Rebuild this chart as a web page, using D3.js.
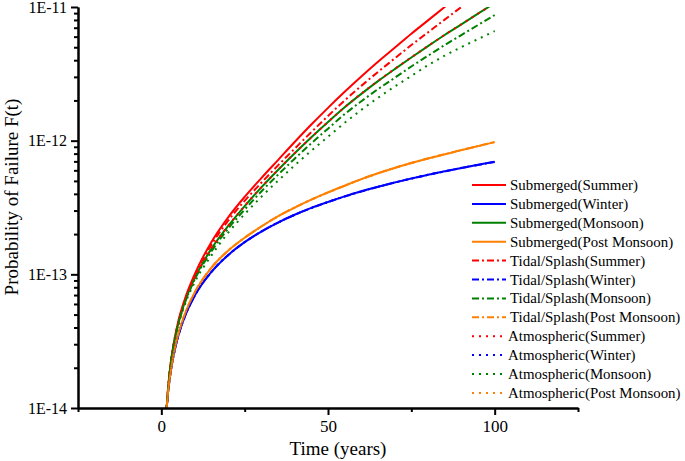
<!DOCTYPE html>
<head>
  <meta charset="utf-8" />
  <script src="https://d3js.org/d3.v7.min.js"></script>
  <style>
    body { margin: 0; background: #fff; }
    text { font-family: "Times New Roman", "Liberation Serif", serif; fill: #000; }
  </style>
</head>
<body>
  <div id="chart"></div>
  <script>
    // time axis (years)
    const years = [1.6, 2, 2.5, 3, 4, 5, 7, 10, 15, 20, 25, 30, 35, 40, 45, 50, 55, 60, 65, 70, 75, 80, 85, 90, 95, 100];

    // probability of failure F(t)
    const subSummer = [1.0e-14, 1.38e-14, 1.86e-14, 2.34e-14, 3.31e-14, 4.37e-14, 6.46e-14, 1.0e-13, 1.74e-13, 2.66e-13, 3.80e-13, 5.25e-13, 7.16e-13, 9.77e-13, 1.32e-12, 1.76e-12, 2.32e-12, 3.02e-12, 3.89e-12, 4.95e-12, 6.31e-12, 7.94e-12, 1.0e-11, 1.26e-11, 1.58e-11, 2.0e-11];
    const subWinter = [1.0e-14, 1.3e-14, 1.65e-14, 2.0e-14, 2.7e-14, 3.4e-14, 4.8e-14, 6.9e-14, 1.04e-13, 1.39e-13, 1.74e-13, 2.09e-13, 2.44e-13, 2.79e-13, 3.14e-13, 3.48e-13, 3.83e-13, 4.18e-13, 4.52e-13, 4.87e-13, 5.21e-13, 5.56e-13, 5.90e-13, 6.25e-13, 6.60e-13, 6.95e-13];
    const subMonsoon = [1.0e-14, 1.35e-14, 1.82e-14, 2.29e-14, 3.24e-14, 4.17e-14, 6.17e-14, 9.33e-14, 1.55e-13, 2.29e-13, 3.24e-13, 4.47e-13, 6.03e-13, 8.04e-13, 1.06e-12, 1.38e-12, 1.78e-12, 2.24e-12, 2.79e-12, 3.43e-12, 4.19e-12, 5.10e-12, 6.17e-12, 7.41e-12, 8.91e-12, 1.07e-11];
    const subPost = [1.0e-14, 1.3e-14, 1.65e-14, 2.0e-14, 2.75e-14, 3.5e-14, 5.0e-14, 7.3e-14, 1.12e-13, 1.50e-13, 1.88e-13, 2.28e-13, 2.72e-13, 3.16e-13, 3.62e-13, 4.10e-13, 4.60e-13, 5.15e-13, 5.70e-13, 6.25e-13, 6.80e-13, 7.35e-13, 7.90e-13, 8.50e-13, 9.10e-13, 9.75e-13];
    const tidSummer = [1.0e-14, 1.38e-14, 1.86e-14, 2.34e-14, 3.31e-14, 4.27e-14, 6.31e-14, 9.77e-14, 1.66e-13, 2.51e-13, 3.55e-13, 4.84e-13, 6.53e-13, 8.71e-13, 1.16e-12, 1.53e-12, 2.0e-12, 2.57e-12, 3.27e-12, 4.12e-12, 5.19e-12, 6.46e-12, 8.04e-12, 1.0e-11, 1.24e-11, 1.55e-11];
    const tidWinter = [1.0e-14, 1.3e-14, 1.65e-14, 2.0e-14, 2.7e-14, 3.4e-14, 4.8e-14, 6.9e-14, 1.04e-13, 1.39e-13, 1.74e-13, 2.09e-13, 2.44e-13, 2.79e-13, 3.13e-13, 3.47e-13, 3.82e-13, 4.17e-13, 4.51e-13, 4.86e-13, 5.20e-13, 5.55e-13, 5.89e-13, 6.24e-13, 6.58e-13, 6.93e-13];
    const tidMonsoon = [1.0e-14, 1.35e-14, 1.82e-14, 2.29e-14, 3.24e-14, 4.17e-14, 6.03e-14, 9.12e-14, 1.48e-13, 2.19e-13, 3.05e-13, 4.17e-13, 5.56e-13, 7.33e-13, 9.55e-13, 1.23e-12, 1.58e-12, 1.97e-12, 2.43e-12, 2.95e-12, 3.59e-12, 4.32e-12, 5.19e-12, 6.17e-12, 7.33e-12, 8.71e-12];
    const tidPost = [1.0e-14, 1.3e-14, 1.65e-14, 2.0e-14, 2.75e-14, 3.5e-14, 5.0e-14, 7.3e-14, 1.12e-13, 1.50e-13, 1.88e-13, 2.28e-13, 2.72e-13, 3.16e-13, 3.62e-13, 4.10e-13, 4.61e-13, 5.16e-13, 5.71e-13, 6.26e-13, 6.81e-13, 7.36e-13, 7.92e-13, 8.52e-13, 9.12e-13, 9.78e-13];
    const atmSummer = [1.0e-14, 1.35e-14, 1.82e-14, 2.29e-14, 3.24e-14, 4.17e-14, 6.17e-14, 9.38e-14, 1.56e-13, 2.30e-13, 3.25e-13, 4.48e-13, 6.05e-13, 8.06e-13, 1.06e-12, 1.38e-12, 1.78e-12, 2.25e-12, 2.80e-12, 3.44e-12, 4.20e-12, 5.11e-12, 6.18e-12, 7.43e-12, 8.93e-12, 1.07e-11];
    const atmWinter = [1.0e-14, 1.3e-14, 1.65e-14, 2.0e-14, 2.7e-14, 3.4e-14, 4.8e-14, 6.9e-14, 1.04e-13, 1.39e-13, 1.74e-13, 2.09e-13, 2.44e-13, 2.79e-13, 3.14e-13, 3.48e-13, 3.83e-13, 4.18e-13, 4.52e-13, 4.87e-13, 5.21e-13, 5.56e-13, 5.90e-13, 6.25e-13, 6.60e-13, 6.95e-13];
    const atmMonsoon = [1.0e-14, 1.32e-14, 1.78e-14, 2.24e-14, 3.16e-14, 4.07e-14, 5.89e-14, 8.71e-14, 1.38e-13, 2.04e-13, 2.82e-13, 3.80e-13, 5.01e-13, 6.53e-13, 8.41e-13, 1.07e-12, 1.36e-12, 1.70e-12, 2.09e-12, 2.54e-12, 3.05e-12, 3.67e-12, 4.32e-12, 5.01e-12, 5.75e-12, 6.61e-12];
    const atmPost = [1.0e-14, 1.3e-14, 1.65e-14, 2.0e-14, 2.75e-14, 3.5e-14, 5.0e-14, 7.3e-14, 1.12e-13, 1.50e-13, 1.88e-13, 2.28e-13, 2.72e-13, 3.16e-13, 3.62e-13, 4.10e-13, 4.60e-13, 5.15e-13, 5.70e-13, 6.25e-13, 6.80e-13, 7.35e-13, 7.90e-13, 8.50e-13, 9.10e-13, 9.75e-13];

    const seriesNames = ["Submerged(Summer)", "Submerged(Winter)", "Submerged(Monsoon)", "Submerged(Post Monsoon)",
      "Tidal/Splash(Summer)", "Tidal/Splash(Winter)", "Tidal/Splash(Monsoon)", "Tidal/Splash(Post Monsoon)",
      "Atmospheric(Summer)", "Atmospheric(Winter)", "Atmospheric(Monsoon)", "Atmospheric(Post Monsoon)"];
    const seriesValues = [subSummer, subWinter, subMonsoon, subPost, tidSummer, tidWinter, tidMonsoon, tidPost,
      atmSummer, atmWinter, atmMonsoon, atmPost];

    const yMajor = [1e-14, 1e-13, 1e-12, 1e-11];
    const yMajorLabels = ["1E-14", "1E-13", "1E-12", "1E-11"];
    const xMajor = [0, 50, 100];
    const xMinor = [-25, 25, 75, 125];

    const width = 685, height = 461;
    const margin = { top: 7, right: 107, bottom: 53, left: 78 };

    const colors = ["#ff0000", "#0000ff", "#008000", "#ff8000"];
    const dashes = [null, "7,3,2,3", "2,5"];

    const svg = d3.select("#chart").append("svg")
      .attr("width", width)
      .attr("height", height);

    const x = d3.scaleLinear().domain([-25, 125]).range([margin.left, width - margin.right]);
    const y = d3.scaleLog().domain([1e-14, 1e-11]).range([height - margin.bottom, margin.top]);

    svg.append("clipPath").attr("id", "clip")
      .append("rect")
      .attr("x", margin.left).attr("y", margin.top)
      .attr("width", x(125) - margin.left)
      .attr("height", y(1e-14) - margin.top);

    // courbes
    const line = d3.line()
      .x(function (d) { return x(d[0]); })
      .y(function (d) { return y(d[1]); })
      .curve(d3.curveMonotoneX);

    const plot = svg.append("g").attr("clip-path", "url(#clip)");
    seriesValues.forEach(function (vals, i) {
      plot.append("path")
        .datum(years.map(function (t, k) { return [t, vals[k]]; }))
        .attr("d", line)
        .attr("fill", "none")
        .attr("stroke", colors[i % 4])
        .attr("stroke-width", 2)
        .attr("stroke-dasharray", dashes[Math.floor(i / 4)]);
    });

    // axes
    const minorY = [];
    yMajor.slice(0, 3).forEach(function (p) {
      for (let m = 2; m <= 9; m++) minorY.push(p * m);
    });

    svg.append("g")
      .attr("transform", "translate(" + margin.left + ",0)")
      .call(d3.axisLeft(y).tickValues(minorY).tickSize(4).tickSizeOuter(0).tickFormat(""));

    const yAxis = svg.append("g")
      .attr("transform", "translate(" + margin.left + ",0)")
      .call(d3.axisLeft(y).tickValues(yMajor).tickSize(7).tickSizeOuter(0)
        .tickFormat(function (d, i) { return yMajorLabels[i]; }));
    yAxis.selectAll("text").attr("x", -11).style("font-size", "16px");

    const xBase = y(1e-14);
    svg.append("g")
      .attr("transform", "translate(0," + xBase + ")")
      .call(d3.axisBottom(x).tickValues(xMinor).tickSize(4).tickSizeOuter(0).tickFormat(""));

    const xAxis = svg.append("g")
      .attr("transform", "translate(0," + xBase + ")")
      .call(d3.axisBottom(x).tickValues(xMajor).tickSize(7).tickSizeOuter(0).tickFormat(d3.format("d")));
    xAxis.selectAll("text").attr("y", 12).style("font-size", "17px");

    svg.selectAll(".domain").attr("stroke-width", 2);
    svg.selectAll(".tick line").attr("stroke-width", 2);
    svg.selectAll("g").attr("font-family", null);

    // titres
    svg.append("text")
      .attr("x", (x(-25) + x(125)) / 2 + 10)
      .attr("y", 455)
      .attr("text-anchor", "middle")
      .style("font-size", "19px")
      .text("Time (years)");

    svg.append("text")
      .attr("transform", "translate(18," + 197 + ") rotate(-90)")
      .attr("text-anchor", "middle")
      .style("font-size", "19px")
      .text("Probability of Failure F(t)");

    // legende
    const legend = svg.append("g").attr("transform", "translate(472,185)");
    seriesNames.forEach(function (name, i) {
      const row = legend.append("g").attr("transform", "translate(0," + (i * 18.9) + ")");
      row.append("line")
        .attr("x1", 0).attr("x2", 34)
        .attr("stroke", colors[i % 4])
        .attr("stroke-width", 2)
        .attr("stroke-dasharray", dashes[Math.floor(i / 4)]);
      row.append("text")
        .attr("x", i < 8 ? 38 : 36)
        .attr("y", 5)
        .style("font-size", "14.9px")
        .text(name);
    });
  </script>
</body>
